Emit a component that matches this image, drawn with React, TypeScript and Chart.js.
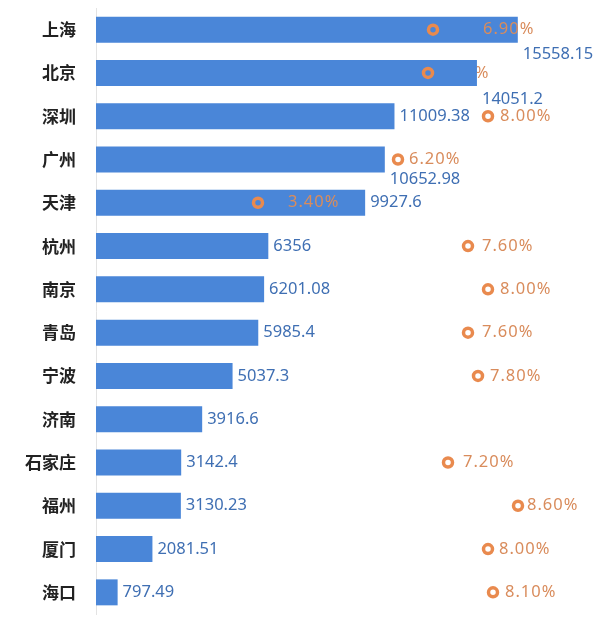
import React, { useEffect, useRef } from 'react';
import { Chart, registerables } from 'chart.js';

Chart.register(...registerables);

const cities = ['上海', '北京', '深圳', '广州', '天津', '杭州', '南京', '青岛', '宁波', '济南', '石家庄', '福州', '厦门', '海口'];
const gdpValues = [15558.15, 14051.2, 11009.38, 10652.98, 9927.6, 6356, 6201.08, 5985.4, 5037.3, 3916.6, 3142.4, 3130.23, 2081.51, 797.49];
const gdpLabels = ['15558.15', '14051.2', '11009.38', '10652.98', '9927.6', '6356', '6201.08', '5985.4', '5037.3', '3916.6', '3142.4', '3130.23', '2081.51', '797.49'];
const growthValues: (number | null)[] = [6.9, 6.8, 8.0, 6.2, 3.4, 7.6, 8.0, 7.6, 7.8, null, 7.2, 8.6, 8.0, 8.1];
const growthLabels = ['6.90%', '6.80%', '8.00%', '6.20%', '3.40%', '7.60%', '8.00%', '7.60%', '7.80%', '', '7.20%', '8.60%', '8.00%', '8.10%'];

// label placement tweaks (layout only)
const gdpLabelShiftY = [25, 26, 0, 20, 0, 0, 0, 0, 0, 0, 0, 0, 0, 0];
const pctLabelShiftX = [50, 10, 12, 11, 30, 14, 12, 14, 12, 12, 15, 9, 11, 12];
const pctUnderBar = [false, true, false, false, false, false, false, false, false, false, false, false, false, false];

const BAR_BLUE = '#4A86D8';
const VALUE_BLUE = '#3F6FB3';
const RING_ORANGE = '#E98A4E';
const PCT_ORANGE = '#D98C5C';
const CJK_FONT = '"Noto Sans CJK SC", "Noto Sans", sans-serif';
const NUM_FONT = '"Noto Sans", "Noto Sans CJK SC", sans-serif';

function drawPct(chart: any, under: boolean) {
  const meta = chart.getDatasetMeta(0);
  const ctx = chart.ctx;
  ctx.save();
  ctx.font = `16.5px ${NUM_FONT}`;
  (ctx as any).letterSpacing = '1px';
  ctx.fillStyle = PCT_ORANGE;
  ctx.textAlign = 'left';
  ctx.textBaseline = 'middle';
  meta.data.forEach((pt: any, i: number) => {
    if (growthValues[i] == null) return;
    if (pctUnderBar[i] !== under) return;
    ctx.fillText(growthLabels[i], pt.x + pctLabelShiftX[i], pt.y);
  });
  ctx.restore();
}

function drawGdp(chart: any) {
  const meta = chart.getDatasetMeta(1);
  const ctx = chart.ctx;
  ctx.save();
  ctx.font = `16.5px ${NUM_FONT}`;
  ctx.fillStyle = VALUE_BLUE;
  ctx.textAlign = 'left';
  ctx.textBaseline = 'middle';
  meta.data.forEach((bar: any, i: number) => {
    ctx.fillText(gdpLabels[i], bar.x + 5, bar.y + gdpLabelShiftY[i]);
  });
  ctx.restore();
}

const labelPlugin = {
  id: 'customLabels',
  beforeDatasetsDraw(chart: any) {
    drawPct(chart, true);
  },
  afterDatasetsDraw(chart: any) {
    drawGdp(chart);
    drawPct(chart, false);
  },
};

export default function App() {
  const ref = useRef<HTMLCanvasElement | null>(null);
  useEffect(() => {
    document.body.style.margin = '0';
    const canvas = ref.current;
    if (!canvas) return;
    const chart = new Chart(canvas, {
      type: 'bar',
      data: {
        labels: cities,
        datasets: [
          {
            type: 'line',
            label: '增速',
            data: growthValues as any,
            xAxisID: 'x2',
            showLine: false,
            pointRadius: 4.5,
            pointBorderWidth: 3.5,
            pointBorderColor: RING_ORANGE,
            pointBackgroundColor: 'rgba(0,0,0,0)',
            order: 0,
          } as any,
          {
            type: 'bar',
            label: 'GDP',
            data: gdpValues,
            xAxisID: 'x',
            backgroundColor: BAR_BLUE,
            barPercentage: 0.6,
            categoryPercentage: 1,
            order: 1,
          },
        ],
      },
      options: {
        indexAxis: 'y',
        responsive: false,
        animation: false,
        layout: { padding: { top: 1, bottom: 12, right: 16, left: 0 } },
        plugins: { legend: { display: false }, tooltip: { enabled: false } },
        scales: {
          x: { display: false, min: 0, max: 18000 },
          x2: { display: false, min: 0.16, max: 9.92, position: 'top' },
          y: {
            grid: { display: false, drawTicks: false },
            border: { display: true, color: '#E3E3E3', width: 1 },
            ticks: {
              padding: 20,
              color: '#222222',
              font: { family: CJK_FONT, size: 17, weight: 'bold' },
            },
            afterFit: (scale: any) => {
              scale.width = 96;
              scale.paddingTop = 0;
              scale.paddingBottom = 0;
            },
          },
        },
      } as any,
      plugins: [labelPlugin],
    });
    return () => chart.destroy();
  }, []);
  return <canvas ref={ref} width={600} height={626} style={{ display: 'block' }} />;
}
